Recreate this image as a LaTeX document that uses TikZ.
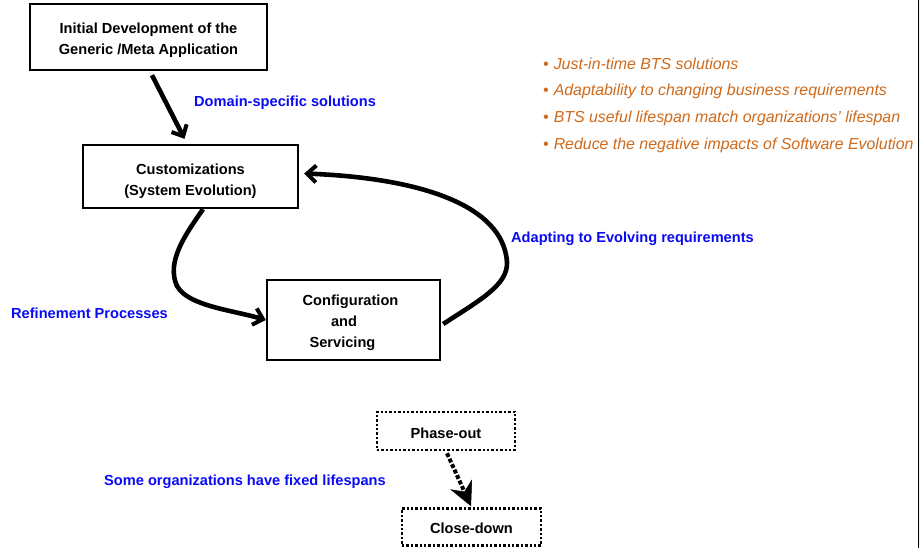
\documentclass[tikz,border=0pt]{standalone}
\usepackage{fontspec}
\setmainfont{Liberation Sans}
\usetikzlibrary{arrows.meta,calc}
\definecolor{noteorange}{RGB}{206,106,28}
\definecolor{labelblue}{RGB}{10,10,245}
\begin{document}
\begin{tikzpicture}[x=1pt,y=-1pt,
  phasebox/.style={draw,line width=2.4pt,inner sep=0pt},
  endbox/.style={phasebox,dotted,line width=2.6pt},
  boxtext/.style={align=center,inner sep=0pt,
    font=\fontsize{14.6}{21}\selectfont\bfseries},
  flow/.style={line width=4.6pt,-{Straight Barb[length=9pt,width=17pt,line width=4pt]}},
  dotflow/.style={line width=4pt,dotted,-{Stealth[length=24pt,width=24pt,inset=8pt,line width=0.5pt]}},
  edgelabel/.style={anchor=west,text=labelblue,inner sep=0pt,
    font=\fontsize{14.6}{17}\selectfont\bfseries},
  note/.style={anchor=west,text=noteorange,inner sep=0pt,
    font=\fontsize{15.9}{18}\selectfont\itshape}]
  \useasboundingbox (0,0) rectangle (920,548);
  \fill[white] (0,0) rectangle (920,548);
  \fill[black!6] (919,0) rectangle (920,548);
  \draw[line width=1.2pt] (918.4,0) -- (918.4,548);

  % lifecycle stages
  \node[phasebox,minimum width=237pt,minimum height=66pt] (b1) at (148.5,37) {};
  \node[boxtext] (t1) at ([yshift=-3pt]b1.center)
    {Initial Development of the\\Generic /Meta Application};
  \node[phasebox,minimum width=215pt,minimum height=63pt] (b2) at (190.5,176.5) {};
  \node[boxtext] (t2) at ([yshift=-4.5pt]b2.center)
    {Customizations\\(System Evolution)};
  \node[phasebox,minimum width=173pt,minimum height=80pt] (b3) at (353.5,320) {};
  \node[boxtext] (t3) at ([yshift=-3pt]b3.center)
    {\hspace*{-6pt}Configuration\\\hspace*{-19pt}and\\\hspace*{-22pt}Servicing};
  \node[endbox,minimum width=138pt,minimum height=38pt] (po) at (446,431) {};
  \node[boxtext] (t4) at ([yshift=-2pt]po.center) {Phase-out};
  \node[endbox,minimum width=139pt,minimum height=37pt] (cd) at (471.5,527) {};
  \node[boxtext] (t5) at ([yshift=-1pt]cd.center) {Close-down};

  % transitions
  \draw[flow] ($(b1.south)+(3.5,4)$) -- ($(b2.north)+(-6,-5)$);
  \draw[flow] ($(b2.south)+(12.5,0)$)
    .. controls (185,235) and (166,262) .. (177,286)
    .. controls (188,306) and (232,310) .. (b3.west);
  \draw[flow] ($(b3.east)+(2,4)$)
    .. controls (480,300) and (508,285) .. (507,262)
    .. controls (503,205) and (420,178) .. ($(b2.east)+(5,-3)$);
  \draw[dotflow] ($(po.south)+(1,2)$) -- ($(cd.north)+(-0.5,-1)$);

  % transition labels
  \node[edgelabel] (l1) at (194,103) {Domain-specific solutions};
  \node[edgelabel] (l2) at (511,239) {Adapting to Evolving requirements};
  \node[edgelabel] (l3) at (11,313) {Refinement Processes};
  \node[edgelabel] (l4) at (104,482) {Some organizations have fixed lifespans};

  % benefits
  \node[note] (n1) at (543,64) {•\hspace{5pt}Just-in-time BTS solutions};
  \node[note] (n2) at (543,91) {•\hspace{5pt}Adaptability to changing business requirements};
  \node[note] (n3) at (543,118) {•\hspace{5pt}BTS useful lifespan match organizations’ lifespan};
  \node[note] (n4) at (543,145.5) {•\hspace{5pt}Reduce the negative impacts of Software Evolution};
\end{tikzpicture}
\end{document}
